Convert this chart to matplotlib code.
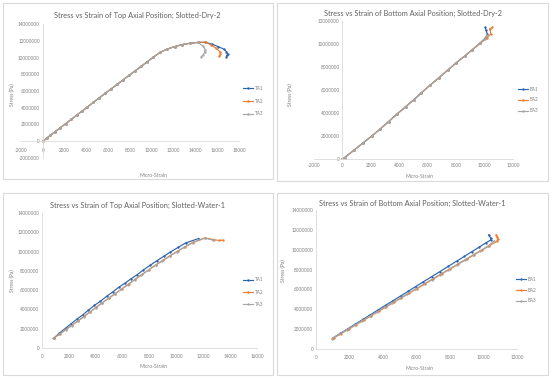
import numpy as np
import matplotlib
matplotlib.use("Agg")
import matplotlib.pyplot as plt
from matplotlib.patches import Rectangle

plt.rcParams['font.family'] = ['Lato', 'DejaVu Sans']

# ---------------- data (strain in micro-strain, stress in MPa -> Pa) ----------------
# Panel 1: Top Axial Position; Slotted-Dry-2
ta1_dry_strain = [0, 350, 700, 1150, 1600, 2100, 2600, 3100, 3600, 4100, 4650, 5200, 5750, 6300, 6850,
                  7400, 7950, 8500, 9050, 9600, 10150, 10750, 11400, 12100, 12800, 13500, 14200, 14900,
                  15500, 16100, 16600, 16850, 16950, 16900, 16850]
ta1_dry_stress = [0, 0.36, 0.71, 1.16, 1.61, 2.1, 2.6, 3.1, 3.6, 4.1, 4.65, 5.2, 5.74, 6.28, 6.82,
                  7.36, 7.9, 8.43, 8.97, 9.5, 10.05, 10.6, 11.0, 11.3, 11.55, 11.7, 11.8, 11.82,
                  11.6, 11.3, 11.0, 10.7, 10.45, 10.25, 10.1]
ta2_dry_strain = [0, 350, 700, 1150, 1600, 2100, 2600, 3100, 3600, 4100, 4650, 5200, 5750, 6300, 6850,
                  7400, 7950, 8500, 9050, 9600, 10150, 10750, 11400, 12100, 12800, 13500, 14200, 14950,
                  15450, 15900, 16250, 16300, 16200]
ta2_dry_stress = [0, 0.36, 0.71, 1.16, 1.61, 2.1, 2.6, 3.1, 3.6, 4.1, 4.65, 5.2, 5.74, 6.28, 6.82,
                  7.36, 7.9, 8.43, 8.97, 9.5, 10.05, 10.6, 11.0, 11.3, 11.55, 11.7, 11.8, 11.83,
                  11.5, 11.1, 10.7, 10.4, 10.15]
ta3_dry_strain = [0, 350, 700, 1150, 1600, 2100, 2600, 3100, 3600, 4100, 4650, 5200, 5750, 6300, 6850,
                  7400, 7950, 8500, 9050, 9600, 10150, 10750, 11400, 12100, 12800, 13500, 14250,
                  14700, 14900, 14850, 14700, 14550]
ta3_dry_stress = [0, 0.36, 0.71, 1.16, 1.61, 2.1, 2.6, 3.1, 3.6, 4.1, 4.65, 5.2, 5.74, 6.28, 6.82,
                  7.36, 7.9, 8.43, 8.97, 9.5, 10.05, 10.6, 11.0, 11.3, 11.55, 11.7, 11.8,
                  11.35, 10.95, 10.6, 10.3, 10.1]

# Panel 2: Bottom Axial Position; Slotted-Dry-2
ba1_dry_strain = [0, 150, 800, 1450, 2050, 2650, 3250, 3850, 4450, 5000, 5550, 6150, 6800, 7400, 8000,
                  8600, 9150, 9650, 10050, 10200, 10100, 10050]
ba1_dry_stress = [0, 0.12, 0.75, 1.4, 1.98, 2.6, 3.25, 3.92, 4.55, 5.13, 5.75, 6.4, 7.08, 7.72, 8.36,
                  8.95, 9.52, 10.05, 10.5, 10.85, 11.2, 11.45]
ba2_dry_strain = [0, 150, 800, 1450, 2050, 2650, 3250, 3850, 4450, 5000, 5550, 6150, 6800, 7400, 8000,
                  8600, 9150, 9700, 10150, 10450, 10350, 10550]
ba2_dry_stress = [0, 0.12, 0.75, 1.4, 1.98, 2.6, 3.25, 3.92, 4.55, 5.13, 5.75, 6.4, 7.08, 7.72, 8.36,
                  8.95, 9.52, 10.05, 10.5, 10.9, 11.3, 11.45]
ba3_dry_strain = [0, 150, 800, 1450, 2050, 2650, 3250, 3850, 4450, 5000, 5550, 6150, 6800, 7400, 8000,
                  8600, 9150, 9650, 10000, 10150]
ba3_dry_stress = [0, 0.12, 0.75, 1.4, 1.98, 2.6, 3.25, 3.92, 4.55, 5.13, 5.75, 6.4, 7.08, 7.72, 8.36,
                  8.95, 9.52, 10.05, 10.45, 10.75]

# Panel 3: Top Axial Position; Slotted-Water-1
ta1_wet_strain = [900, 1300, 1750, 2150, 2600, 3050, 3450, 3900, 4350, 4800, 5250, 5700, 6200, 6650,
                  7100, 7550, 8050, 8550, 9050, 9550, 10150, 10700, 11650]
ta1_wet_stress = [1.05, 1.55, 2.05, 2.5, 3.0, 3.45, 3.92, 4.42, 4.85, 5.35, 5.8, 6.28, 6.75, 7.2,
                  7.62, 8.1, 8.58, 9.05, 9.5, 9.95, 10.45, 10.9, 11.35]
ta2_wet_strain = [900, 1350, 1800, 2250, 2700, 3150, 3600, 4050, 4500, 5000, 5450, 5950, 6450, 6950,
                  7450, 7950, 8500, 9000, 9550, 10100, 10650, 11250, 12150, 12750, 13150, 13450]
ta2_wet_stress = [1.05, 1.48, 1.93, 2.38, 2.83, 3.29, 3.77, 4.25, 4.7, 5.2, 5.65, 6.14, 6.64, 7.14,
                  7.63, 8.12, 8.64, 9.1, 9.58, 10.05, 10.5, 10.95, 11.42, 11.25, 11.15, 11.18]
ta3_wet_strain = [850, 1300, 1750, 2200, 2650, 3100, 3550, 4000, 4450, 4950, 5400, 5900, 6400, 6900,
                  7400, 7900, 8450, 8950, 9500, 10050, 10600, 11200, 12100, 12800]
ta3_wet_stress = [1.0, 1.43, 1.88, 2.33, 2.78, 3.24, 3.71, 4.19, 4.64, 5.14, 5.59, 6.08, 6.58, 7.08,
                  7.57, 8.06, 8.58, 9.04, 9.53, 10.0, 10.46, 10.92, 11.4, 11.16]

# Panel 4: Bottom Axial Position; Slotted-Water-1
ba1_wet_strain = [1000, 1450, 1900, 2350, 2800, 3250, 3700, 4150, 4600, 5050, 5500, 5950, 6400, 6900,
                  7400, 7900, 8400, 8850, 9300, 9750, 10150, 10450, 10420, 10300]
ba1_wet_stress = [1.1, 1.57, 2.04, 2.51, 2.98, 3.45, 3.93, 4.4, 4.87, 5.34, 5.81, 6.29, 6.76, 7.28,
                  7.8, 8.33, 8.85, 9.32, 9.8, 10.27, 10.7, 11.0, 11.2, 11.5]
ba2_wet_strain = [1050, 1500, 1950, 2400, 2850, 3300, 3750, 4200, 4650, 5100, 5550, 6000, 6500, 7000,
                  7500, 8000, 8500, 9000, 9450, 9900, 10350, 10800, 10850, 10800, 10750]
ba2_wet_stress = [1.1, 1.55, 2.0, 2.45, 2.9, 3.35, 3.8, 4.25, 4.7, 5.15, 5.6, 6.05, 6.55, 7.05,
                  7.55, 8.05, 8.55, 9.05, 9.5, 9.95, 10.4, 10.85, 11.1, 11.3, 11.5]
ba3_wet_strain = [950, 1400, 1850, 2300, 2750, 3200, 3650, 4100, 4550, 5000, 5450, 5900, 6400, 6900,
                  7400, 7900, 8400, 8900, 9350, 9800, 10250, 10650]
ba3_wet_stress = [1.05, 1.5, 1.95, 2.4, 2.85, 3.3, 3.75, 4.2, 4.65, 5.1, 5.55, 6.0, 6.5, 7.0,
                  7.5, 8.0, 8.5, 9.0, 9.45, 9.9, 10.35, 10.9]

titles = ["Stress vs Strain of Top Axial Position; Slotted-Dry-2",
          "Stress vs Strain of Bottom Axial Position; Slotted-Dry-2",
          "Stress vs Strain of Top Axial Position; Slotted-Water-1",
          "Stress vs Strain of Bottom Axial Position; Slotted-Water-1"]
top_labels = ["TA1", "TA2", "TA3"]
bot_labels = ["BA1", "BA2", "BA3"]

colors = ["#2F64AE", "#ED7D31", "#A5A5A5"]
TXT = "#808080"
AX = "#D9D9D9"

W, H = 550, 377
fig = plt.figure(figsize=(W / 100, H / 100), dpi=100)


def fx(x):
    return x / W


def fy(y):
    return 1 - y / H


# panel frames
for (x0, y0, x1, y1) in [(3, 3, 273, 179), (277, 3, 548, 181), (3, 193, 273, 375), (277, 193, 548, 375)]:
    fig.patches.append(Rectangle((fx(x0), fy(y1)), fx(x1) - fx(x0), fy(y0) - fy(y1),
                                 transform=fig.transFigure, fill=False, edgecolor="#DADADA", lw=0.8))

panels = [
    dict(series=[(ta1_dry_strain, ta1_dry_stress), (ta2_dry_strain, ta2_dry_stress), (ta3_dry_strain, ta3_dry_stress)],
         labels=top_labels, xlim=(-2000, 18000), ylim=(-2000000, 14000000), xt=np.arange(-2000, 18001, 2000),
         yt=np.arange(-2000000, 14000001, 2000000), px=(21, 239, 24, 158), title=(137, 15),
         xl=(153, 175), yl=(12, 95), leg=(243, 101, 1.7), xpad=4.5),
    dict(series=[(ba1_dry_strain, ba1_dry_stress), (ba2_dry_strain, ba2_dry_stress), (ba3_dry_strain, ba3_dry_stress)],
         labels=bot_labels, xlim=(-2000, 12000), ylim=(0, 12000000), xt=np.arange(-2000, 12001, 2000),
         yt=np.arange(0, 12000001, 2000000), px=(314, 513, 21, 159), title=(413, 13),
         xl=(420, 177), yl=(290, 95), leg=(518, 100, 1.3), xpad=3.0),
    dict(series=[(ta1_wet_strain, ta1_wet_stress), (ta2_wet_strain, ta2_wet_stress), (ta3_wet_strain, ta3_wet_stress)],
         labels=top_labels, xlim=(0, 16000), ylim=(0, 14000000), xt=np.arange(0, 16001, 2000),
         yt=np.arange(0, 14000001, 2000000), px=(42, 257, 213, 348), title=(137, 205),
         xl=(153, 366), yl=(12, 281), leg=(243, 292, 1.6), xpad=4.5),
    dict(series=[(ba1_wet_strain, ba1_wet_stress), (ba2_wet_strain, ba2_wet_stress), (ba3_wet_strain, ba3_wet_stress)],
         labels=bot_labels, xlim=(0, 12000), ylim=(0, 14000000), xt=np.arange(0, 12001, 2000),
         yt=np.arange(0, 14000001, 2000000), px=(316, 517, 210, 349), title=(412, 203),
         xl=(420, 368), yl=(283, 271), leg=(516, 290, 1.3), xpad=4.0),
]

for i, p in enumerate(panels):
    xl0, xl1, yt0, yb0 = p['px']
    ax = fig.add_axes([fx(xl0), fy(yb0), fx(xl1) - fx(xl0), fy(yt0) - fy(yb0)])
    ax.patch.set_alpha(0)
    handles = []
    for (s, st), c, lab in zip(p['series'], colors, p['labels']):
        h, = ax.plot(s, np.array(st) * 1e6, color=c, lw=0.85, marker='o', ms=1.7,
                     markeredgewidth=0, label=lab)
        handles.append(h)
    ax.set_xlim(*p['xlim'])
    ax.set_ylim(*p['ylim'])
    ax.set_xticks(p['xt'])
    ax.set_yticks(p['yt'])
    ax.set_xticklabels([str(int(v)) for v in p['xt']])
    ax.set_yticklabels([str(int(v)) for v in p['yt']])
    for sp in ['top', 'right']:
        ax.spines[sp].set_visible(False)
    ax.spines['left'].set_position(('data', 0))
    ax.spines['bottom'].set_position(('data', 0))
    ax.spines['left'].set_color(AX)
    ax.spines['bottom'].set_color(AX)
    ax.spines['left'].set_linewidth(0.6)
    ax.spines['bottom'].set_linewidth(0.6)
    ax.tick_params(axis='both', length=0, labelsize=3.3, colors=TXT)
    ax.tick_params(axis='x', pad=p['xpad'])
    ax.tick_params(axis='y', pad=2)

    tx, ty = p['title']
    fig.text(fx(tx), fy(ty), titles[i], ha='center', va='center', fontsize=5.3, color="#606060")
    x, y = p['xl']
    fig.text(fx(x), fy(y), "Micro-Strain", ha='center', va='center', fontsize=3.6, color=TXT)
    x, y = p['yl']
    fig.text(fx(x), fy(y), "Stress (Pa)", ha='center', va='center', fontsize=3.6, color=TXT, rotation=90)
    lx, ly, sp = p['leg']
    fig.legend(handles=handles, loc='center left', bbox_to_anchor=(fx(lx), fy(ly)),
               bbox_transform=fig.transFigure, frameon=False, fontsize=3.3, labelcolor=TXT,
               handlelength=2.2, handletextpad=0.3, labelspacing=sp, borderpad=0, borderaxespad=0)

fig.savefig("out.png", dpi=100)
